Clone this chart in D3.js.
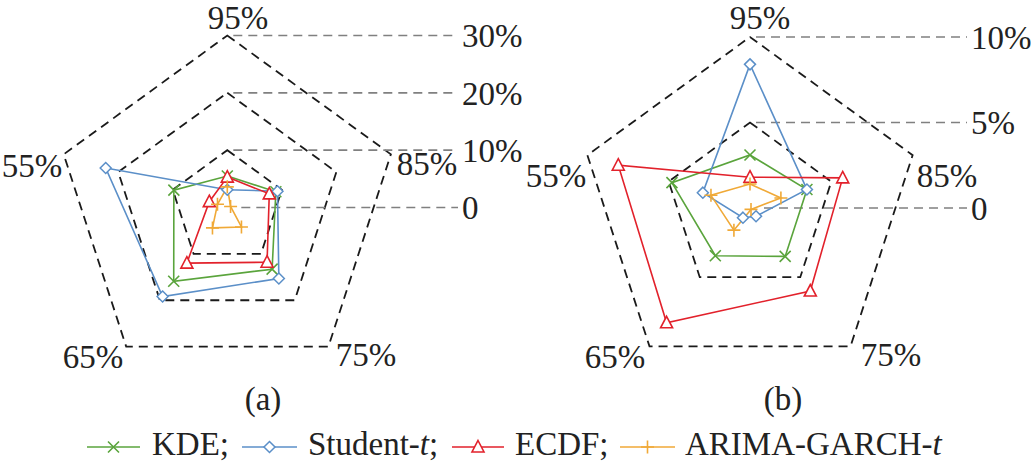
<!DOCTYPE html>
<html><head><meta charset="utf-8">
<script src="https://cdn.jsdelivr.net/npm/d3@7"></script>
<style>
html,body{margin:0;padding:0;background:#fff;}
text{font-family:"Liberation Serif","Times New Roman",serif;fill:#222;}
</style></head>
<body><svg id="c" width="1031" height="468"></svg>
<script>
const categories = ["95%","85%","75%","65%","55%"];
const seriesNames = ["KDE","Student-t","ECDF","ARIMA-GARCH-t"];
// panel (a)
const kdeA   = [5.5, 8.9, 13.3, 15.9, 9.8];
const stuA   = [3.1, 9.2, 15.3, 19.2, 22.3];
const ecdfA  = [5.3, 7.7, 11.8, 12.0, 3.3];
const arimaA = [3.6, 0.6, 4.2, 4.4, 1.8];
const ticksA = [0, 10, 20, 30];
const tickLabelsA = ["0","10%","20%","30%"];
// panel (b)
const kdeB   = [3.1, 3.5, 3.5, 3.45, 4.8];
const stuB   = [8.4, 3.5, 0.6, 0.7, 2.9];
const ecdfB  = [1.8, 5.7, 6.0, 8.3, 8.1];
const arimaB = [1.4, 1.9, 0.1, 1.6, 2.4];
const ticksB = [0, 5, 10];
const tickLabelsB = ["0","5%","10%"];

const colors = ["#5aa43c","#5b8fc8","#e2212b","#f0a937"];
const markers = ["x","diamond","triangle","plus"];
const FS = 33;

const svg = d3.select("#c");

function marker(g, type, x, y, color){
  const s = 5.5;
  if(type==="x"){
    g.append("path").attr("d",`M${x-s},${y-s}L${x+s},${y+s}M${x-s},${y+s}L${x+s},${y-s}`)
     .attr("stroke",color).attr("stroke-width",1.6).attr("fill","none");
  } else if(type==="plus"){
    g.append("path").attr("d",`M${x-s-1},${y}L${x+s+1},${y}M${x},${y-s-1}L${x},${y+s+1}`)
     .attr("stroke",color).attr("stroke-width",1.6).attr("fill","none");
  } else if(type==="diamond"){
    g.append("path").attr("d",`M${x},${y-s}L${x+s},${y}L${x},${y+s}L${x-s},${y}Z`)
     .attr("stroke",color).attr("stroke-width",1.5).attr("fill","#fff");
  } else {
    g.append("path").attr("d",`M${x},${y-s-1}L${x+s+0.5},${y+s-0.5}L${x-s-0.5},${y+s-0.5}Z`)
     .attr("stroke",color).attr("stroke-width",1.6).attr("fill","#fff");
  }
}

function radar(cfg){
  const g = svg.append("g");
  const r = d3.scaleLinear().domain(cfg.domain).range([0, cfg.R]);
  const ang = d3.scalePoint().domain(categories).range([0, 2*Math.PI*4/5]);
  const pt = (c, v) => [cfg.cx + r(v)*Math.sin(ang(c)), cfg.cy - r(v)*Math.cos(ang(c))];
  const line = d3.line();
  cfg.ticks.filter(t=>t>0).forEach(t=>{
    g.append("path").attr("d", line(categories.map(c=>pt(c,t))) + "Z")
      .attr("fill","none").attr("stroke","#1a1a1a").attr("stroke-width",1.8)
      .attr("stroke-dasharray","9,6");
  });
  cfg.ticks.forEach((t,i)=>{
    const y = cfg.cy - r(t);
    g.append("line").attr("x1", cfg.cx + (t===0?14:6)).attr("x2", cfg.lineEnd)
      .attr("y1", y).attr("y2", y)
      .attr("stroke","#808080").attr("stroke-width",1.6).attr("stroke-dasharray","9,6");
    g.append("text").attr("x", cfg.labelX).attr("y", y).attr("dy","0.36em")
      .attr("font-size",FS).text(cfg.tickLabels[i]);
  });
  categories.forEach((c,i)=>{
    const p = cfg.catPos[i];
    g.append("text").attr("x",p[0]).attr("y",p[1]).attr("font-size",FS)
      .attr("text-anchor","middle").text(c);
  });
  cfg.series.forEach((vals,si)=>{
    const pts = categories.map((c,i)=>pt(c, vals[i]));
    g.append("path").attr("d", line(pts)+"Z").attr("fill","none")
      .attr("stroke", colors[si]).attr("stroke-width",1.6);
  });
  cfg.series.forEach((vals,si)=>{
    categories.forEach((c,i)=>{
      const p = pt(c, vals[i]);
      marker(g, markers[si], p[0], p[1], colors[si]);
    });
  });
  g.append("text").attr("x",cfg.tag[0]).attr("y",cfg.tag[1]).attr("font-size",FS)
    .attr("text-anchor","middle").text(cfg.tagText);
}

radar({cx:227.3, cy:207.5, R:172, domain:[0,30], ticks:ticksA, tickLabels:tickLabelsA,
  lineEnd:458, labelX:462,
  series:[kdeA, stuA, ecdfA, arimaA],
  catPos:[[238,29],[427,175],[366,366],[93,368],[32,177]],
  tag:[263,410], tagText:"(a)"});

radar({cx:750, cy:208, R:171, domain:[0,10], ticks:ticksB, tickLabels:tickLabelsB,
  lineEnd:967, labelX:971,
  series:[kdeB, stuB, ecdfB, arimaB],
  catPos:[[760,29],[947,187],[891,366],[615,368],[556,187]],
  tag:[783,410], tagText:"(b)"});

const leg = svg.append("g");
const legItems = [
  {x1:87, x2:140, tx:152, parts:[["KDE;",false]]},
  {x1:242, x2:297, tx:308, parts:[["Student-",false],["t",true],[";",false]]},
  {x1:452, x2:504, tx:515, parts:[["ECDF;",false]]},
  {x1:620, x2:675, tx:685, parts:[["ARIMA-GARCH-",false],["t",true]]}
];
const ly = 447;
legItems.forEach((it,i)=>{
  leg.append("line").attr("x1",it.x1).attr("x2",it.x2).attr("y1",ly).attr("y2",ly)
    .attr("stroke",colors[i]).attr("stroke-width",1.6);
  marker(leg, markers[i], (it.x1+it.x2)/2, ly, colors[i]);
  const t = leg.append("text").attr("x",it.tx).attr("y",455).attr("font-size",FS);
  it.parts.forEach(p=>{
    const ts = t.append("tspan").text(p[0]);
    if(p[1]) ts.attr("font-style","italic");
  });
});
</script></body></html>
